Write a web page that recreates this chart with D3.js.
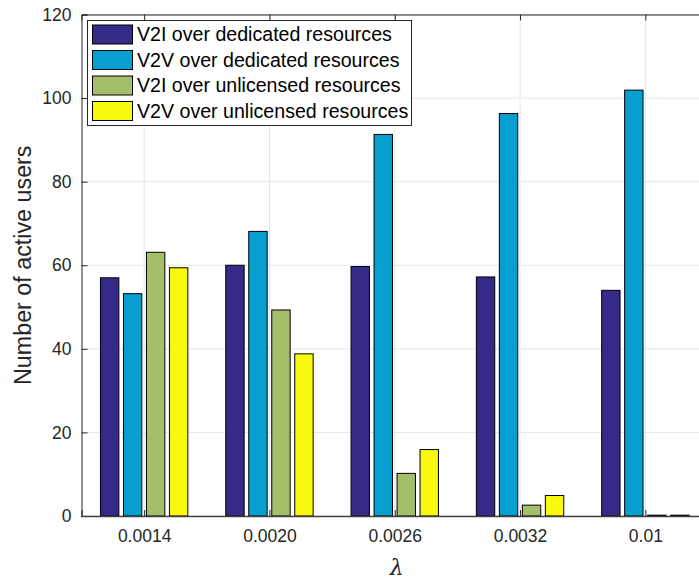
<!DOCTYPE html>
<html>
<head>
<meta charset="utf-8">
<script src="https://cdn.jsdelivr.net/npm/d3@7"></script>
<style>
  html, body { margin: 0; padding: 0; background: #fff; }
  svg { display: block; font-family: "Liberation Sans", Arial, Helvetica, sans-serif; }
</style>
</head>
<body>
<svg id="chart" width="699" height="579"></svg>
<script>
const categories = ["0.0014", "0.0020", "0.0026", "0.0032", "0.01"];
const seriesNames = [
  "V2I over dedicated resources",
  "V2V over dedicated resources",
  "V2I over unlicensed resources",
  "V2V over unlicensed resources"
];
const v2iDedicated   = [57.0, 60.0, 59.7, 57.2, 54.0];
const v2vDedicated   = [53.2, 68.1, 91.3, 96.3, 101.9];
const v2iUnlicensed  = [63.1, 49.3, 10.2, 2.6, 0.2];
const v2vUnlicensed  = [59.4, 38.8, 15.9, 4.9, 0.2];
const seriesValues = [v2iDedicated, v2vDedicated, v2iUnlicensed, v2vUnlicensed];
const seriesColors = ["#352a87", "#069fcf", "#a5be6a", "#f8f90f"];
const yTicks = [0, 20, 40, 60, 80, 100, 120];

(function () {
const svg = d3.select("#chart");
const mLeft = 81.5, mTop = 14.5, mBottom = 516, step = 125.3;
const mRight = mLeft + step * categories.length;

const x = d3.scaleLinear().domain([0.5, categories.length + 0.5]).range([mLeft, mRight]);
const y = d3.scaleLinear().domain([0, 120]).range([mBottom, mTop]);
const xs = d3.scaleBand().domain(d3.range(seriesNames.length)).range([-46, 46])
  .paddingInner(0.2).paddingOuter(0.1);

const axisColor = "#262626";
const gridColor = "#e6e6e6";

// grid
const grid = svg.append("g");
grid.selectAll("line.h").data(yTicks).join("line")
  .attr("x1", mLeft).attr("x2", mRight)
  .attr("y1", d => y(d)).attr("y2", d => y(d))
  .attr("stroke", gridColor).attr("stroke-width", 1);
grid.selectAll("line.v").data(categories).join("line")
  .attr("x1", (d, i) => x(i + 1)).attr("x2", (d, i) => x(i + 1))
  .attr("y1", mTop).attr("y2", mBottom)
  .attr("stroke", gridColor).attr("stroke-width", 1);

// bars
const bars = svg.append("g");
seriesValues.forEach((vals, s) => {
  bars.selectAll(null).data(vals).join("rect")
    .attr("x", (d, i) => x(i + 1) + xs(s))
    .attr("width", xs.bandwidth())
    .attr("y", d => y(d))
    .attr("height", d => y(0) - y(d))
    .attr("fill", seriesColors[s])
    .attr("stroke", "#000")
    .attr("stroke-width", 1);
});

// axes
const tickLen = 6;
const yAxis = d3.axisLeft(y).tickValues(yTicks).tickSize(-tickLen).tickPadding(10);
const gy = svg.append("g").attr("transform", `translate(${mLeft},0)`).call(yAxis);
const xAxis = d3.axisBottom(x).tickValues(d3.range(1, categories.length + 1))
  .tickFormat(d => categories[d - 1]).tickSize(-tickLen).tickPadding(14);
const gx = svg.append("g").attr("transform", `translate(0,${mBottom})`).call(xAxis);
const xTop = d3.axisTop(x).tickValues(d3.range(1, categories.length + 1))
  .tickFormat("").tickSize(-tickLen);
const gt = svg.append("g").attr("transform", `translate(0,${mTop})`).call(xTop);
[gx, gy, gt].forEach(g => {
  g.select(".domain").attr("stroke", axisColor).attr("stroke-width", 1);
  g.selectAll(".tick line").attr("stroke", axisColor);
  g.selectAll(".tick text").attr("fill", axisColor).style("font-size", "17.5px")
    .style("font-family", "'Liberation Sans', Arial, sans-serif");
});
gx.select(".domain").attr("stroke", "#404040").attr("stroke-width", 1.5);

// axis labels
svg.append("text")
  .attr("transform", `translate(31,${(mTop + mBottom) / 2}) rotate(-90)`)
  .attr("text-anchor", "middle")
  .attr("fill", axisColor)
  .style("font-size", "23.3px")
  .text("Number of active users");
svg.append("text")
  .attr("x", x(3) + 2).attr("y", 575)
  .attr("text-anchor", "middle")
  .attr("fill", axisColor)
  .style("font-size", "22px").style("font-style", "italic")
  .style("font-family", "'DejaVu Serif', 'Liberation Serif', serif")
  .text("λ");

// legend
const lg = svg.append("g");
lg.append("rect").attr("x", 87.5).attr("y", 20.5).attr("width", 324).attr("height", 105)
  .attr("fill", "#fff").attr("stroke", axisColor).attr("stroke-width", 1);
seriesNames.forEach((name, i) => {
  const cy = 34.5 + i * 25.5;
  lg.append("rect").attr("x", 92.5).attr("y", cy - 9.5).attr("width", 40).attr("height", 19)
    .attr("fill", seriesColors[i]).attr("stroke", "#000").attr("stroke-width", 1);
  lg.append("text").attr("x", 137).attr("y", cy).attr("dy", "0.35em")
    .attr("fill", "#000").style("font-size", "19.6px").text(name);
});
})();
</script>
</body>
</html>
